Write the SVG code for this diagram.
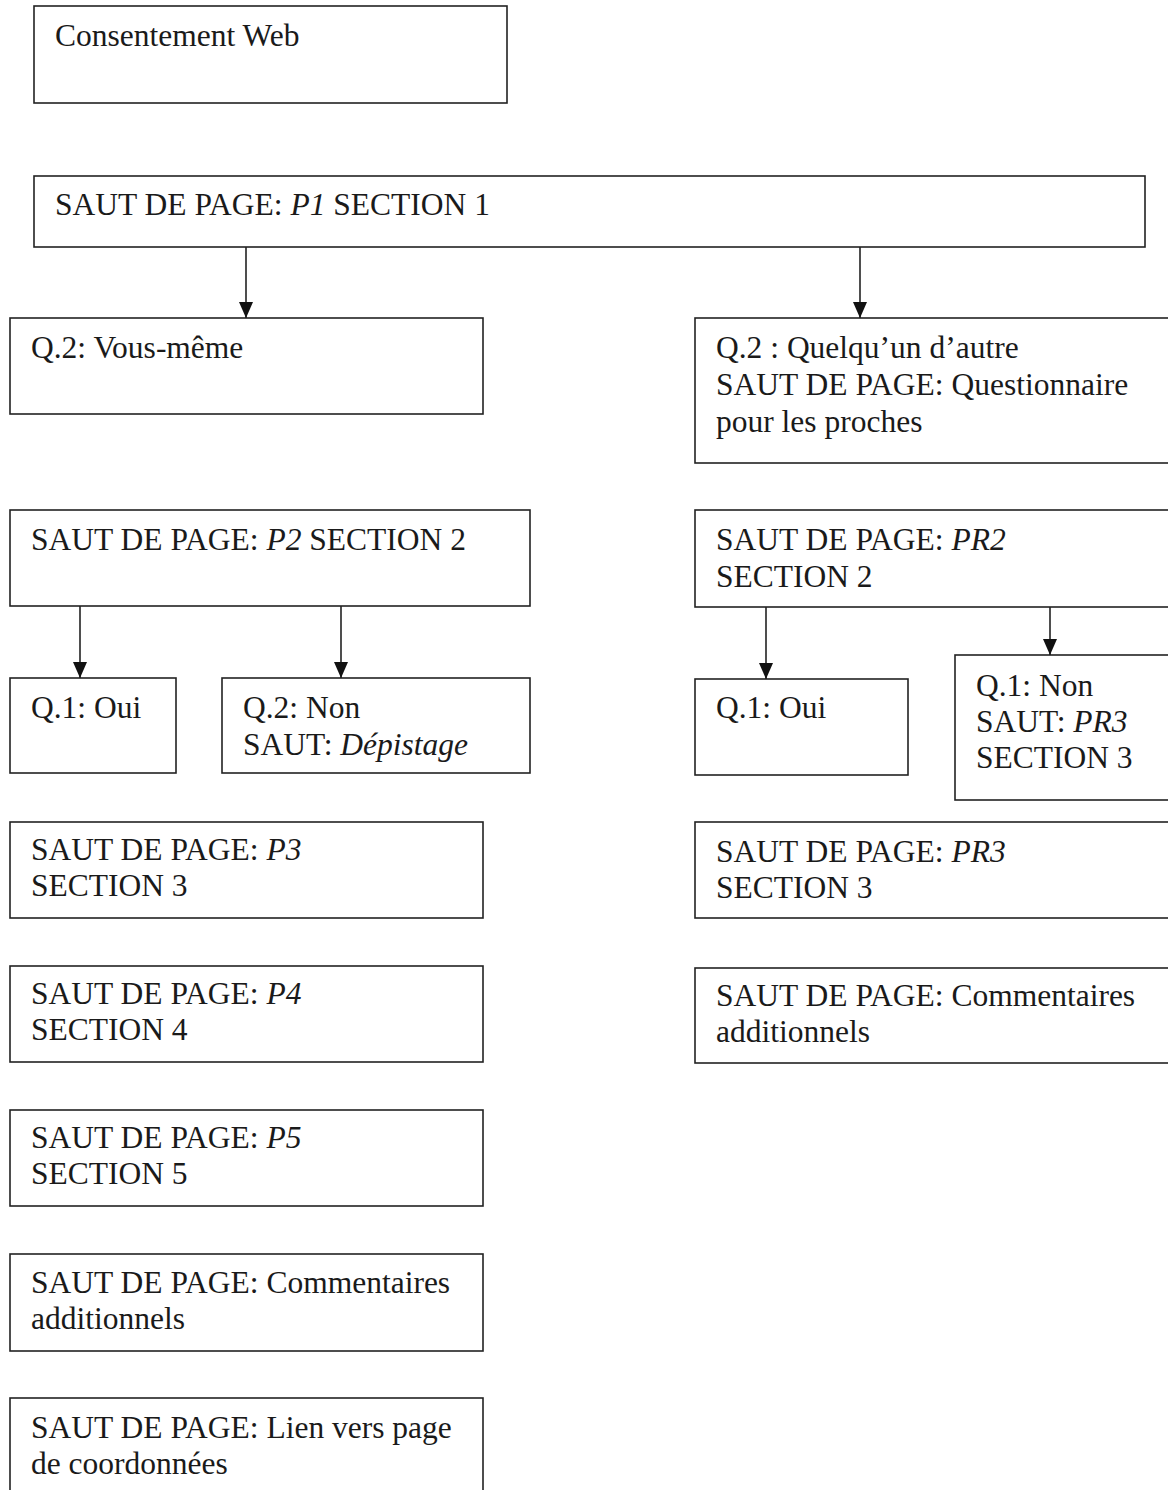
<svg xmlns="http://www.w3.org/2000/svg" width="1168" height="1490" viewBox="0 0 1168 1490">
  <style>
    .box { fill: #fff; stroke: #222; stroke-width: 1.6; }
    .t { font-family: "Liberation Serif", "Times New Roman", serif; font-size: 31.5px; fill: #1a1a1a; }
    .i { font-style: italic; }
    .edge { stroke: #222; stroke-width: 1.6; fill: none; marker-end: url(#arrow); }
  </style>
  <defs>
    <!-- filled triangular arrowhead, tip at the end of the line -->
    <marker id="arrow" viewBox="0 0 16 14" refX="16" refY="7" markerWidth="16" markerHeight="14" markerUnits="userSpaceOnUse" orient="auto">
      <path d="M0,0 L16,7 L0,14 Z" fill="#111"/>
    </marker>
  </defs>
  <rect width="1168" height="1490" fill="#fff"/>

  <g id="consentement">
    <rect class="box" x="34" y="6" width="473" height="97"/>
    <text class="t" x="55" y="46">Consentement Web</text>
  </g>

  <g id="p1">
    <rect class="box" x="34" y="176" width="1111" height="71"/>
    <text class="t" x="55" y="215">SAUT DE PAGE: <tspan class="i">P1</tspan> SECTION 1</text>
  </g>

  <g id="vous-meme">
    <rect class="box" x="10" y="318" width="473" height="96"/>
    <text class="t" x="31" y="358">Q.2: Vous-même</text>
  </g>

  <g id="quelquun">
    <rect class="box" x="695" y="318" width="480" height="145"/>
    <text class="t" x="716" y="358">Q.2 : Quelqu’un d’autre</text>
    <text class="t" x="716" y="395">SAUT DE PAGE: Questionnaire</text>
    <text class="t" x="716" y="432">pour les proches</text>
  </g>

  <g id="p2">
    <rect class="box" x="10" y="510" width="520" height="96"/>
    <text class="t" x="31" y="550">SAUT DE PAGE: <tspan class="i">P2</tspan> SECTION 2</text>
  </g>

  <g id="p2-oui">
    <rect class="box" x="10" y="678" width="166" height="95"/>
    <text class="t" x="31" y="718">Q.1: Oui</text>
  </g>

  <g id="p2-non">
    <rect class="box" x="222" y="678" width="308" height="95"/>
    <text class="t" x="243" y="718">Q.2: Non</text>
    <text class="t" x="243" y="755">SAUT: <tspan class="i">Dépistage</tspan></text>
  </g>

  <g id="pr2">
    <rect class="box" x="695" y="510" width="480" height="97"/>
    <text class="t" x="716" y="550">SAUT DE PAGE: <tspan class="i">PR2</tspan></text>
    <text class="t" x="716" y="587">SECTION 2</text>
  </g>

  <g id="pr2-oui">
    <rect class="box" x="695" y="679" width="213" height="96"/>
    <text class="t" x="716" y="718">Q.1: Oui</text>
  </g>

  <g id="pr2-non">
    <rect class="box" x="955" y="655" width="220" height="145"/>
    <text class="t" x="976" y="696">Q.1: Non</text>
    <text class="t" x="976" y="732">SAUT: <tspan class="i">PR3</tspan></text>
    <text class="t" x="976" y="768">SECTION 3</text>
  </g>

  <g id="p3">
    <rect class="box" x="10" y="822" width="473" height="96"/>
    <text class="t" x="31" y="860">SAUT DE PAGE: <tspan class="i">P3</tspan></text>
    <text class="t" x="31" y="896">SECTION 3</text>
  </g>

  <g id="pr3">
    <rect class="box" x="695" y="822" width="480" height="96"/>
    <text class="t" x="716" y="862">SAUT DE PAGE: <tspan class="i">PR3</tspan></text>
    <text class="t" x="716" y="898">SECTION 3</text>
  </g>

  <g id="p4">
    <rect class="box" x="10" y="966" width="473" height="96"/>
    <text class="t" x="31" y="1004">SAUT DE PAGE: <tspan class="i">P4</tspan></text>
    <text class="t" x="31" y="1040">SECTION 4</text>
  </g>

  <g id="pr-commentaires">
    <rect class="box" x="695" y="968" width="480" height="95"/>
    <text class="t" x="716" y="1006">SAUT DE PAGE: Commentaires</text>
    <text class="t" x="716" y="1042">additionnels</text>
  </g>

  <g id="p5">
    <rect class="box" x="10" y="1110" width="473" height="96"/>
    <text class="t" x="31" y="1148">SAUT DE PAGE: <tspan class="i">P5</tspan></text>
    <text class="t" x="31" y="1184">SECTION 5</text>
  </g>

  <g id="p-commentaires">
    <rect class="box" x="10" y="1254" width="473" height="97"/>
    <text class="t" x="31" y="1293">SAUT DE PAGE: Commentaires</text>
    <text class="t" x="31" y="1329">additionnels</text>
  </g>

  <g id="p-lien">
    <rect class="box" x="10" y="1398" width="473" height="110"/>
    <text class="t" x="31" y="1438">SAUT DE PAGE: Lien vers page</text>
    <text class="t" x="31" y="1474">de coordonnées</text>
  </g>

  <g id="connectors">
    <line class="edge" x1="246" y1="247" x2="246" y2="318"/>
    <line class="edge" x1="860" y1="247" x2="860" y2="318"/>
    <line class="edge" x1="80" y1="606" x2="80" y2="678"/>
    <line class="edge" x1="341" y1="606" x2="341" y2="678"/>
    <line class="edge" x1="766" y1="607" x2="766" y2="679"/>
    <line class="edge" x1="1050" y1="607" x2="1050" y2="655"/>
  </g>
</svg>
